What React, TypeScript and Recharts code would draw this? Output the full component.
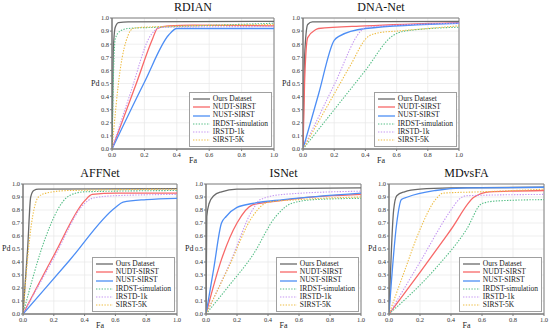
import { CartesianGrid, Line, LineChart, ReferenceArea, XAxis, YAxis } from "recharts";

type Pt = [number, number];

const NAMES = ["Ours Dataset", "NUDT-SIRST", "NUST-SIRST", "IRDST-simulation", "IRSTD-1k", "SIRST-5K"];
const COLORS = ["#6a6a6a", "#f76868", "#4d8ef5", "#55be86", "#c597f2", "#eebd45"];
const DASHED = [false, false, false, true, true, true];
const X_TICKS = [0, 0.2, 0.4, 0.6, 0.8, 1];
const Y_TICKS = [0, 0.1, 0.2, 0.3, 0.4, 0.5, 0.6, 0.7, 0.8, 0.9, 1];

// curves in NAMES order, points are [Fa, Pd]
const rdian: Pt[][] = [
  [[0, 0], [0.008, 0.75], [0.02, 0.93], [0.04, 0.965], [0.1, 0.97], [1, 0.975]],
  [[0, 0], [0.15, 0.5], [0.25, 0.84], [0.28, 0.92], [0.35, 0.94], [0.5, 0.945], [1, 0.94]],
  [[0, 0], [0.2, 0.51], [0.35, 0.87], [0.4, 0.92], [0.6, 0.92], [1, 0.92]],
  [[0, 0], [0.01, 0.6], [0.02, 0.84], [0.05, 0.9], [0.1, 0.92], [0.3, 0.93], [1, 0.96]],
  [[0, 0], [0.12, 0.45], [0.23, 0.85], [0.26, 0.9], [0.3, 0.93], [1, 0.935]],
  [[0, 0], [0.05, 0.6], [0.1, 0.87], [0.13, 0.92], [0.2, 0.93], [1, 0.95]],
];

const dnaNet: Pt[][] = [
  [[0, 0], [0.01, 0.7], [0.03, 0.95], [0.06, 0.97], [1, 0.975]],
  [[0, 0], [0.01, 0.5], [0.03, 0.85], [0.08, 0.91], [0.1, 0.92], [0.4, 0.94], [1, 0.965]],
  [[0, 0], [0.1, 0.42], [0.2, 0.83], [0.23, 0.86], [0.4, 0.92], [1, 0.96]],
  [[0, 0], [0.2, 0.3], [0.4, 0.6], [0.57, 0.86], [0.65, 0.9], [1, 0.93]],
  [[0, 0], [0.2, 0.49], [0.37, 0.9], [0.4, 0.93], [1, 0.96]],
  [[0, 0], [0.2, 0.42], [0.3, 0.63], [0.42, 0.86], [0.5, 0.89], [0.6, 0.9], [1, 0.94]],
];

const affNet: Pt[][] = [
  [[0, 0], [0.03, 0.5], [0.05, 0.9], [0.07, 0.95], [0.1, 0.96], [1, 0.965]],
  [[0, 0], [0.2, 0.45], [0.4, 0.87], [0.45, 0.92], [0.6, 0.93], [1, 0.93]],
  [[0, 0], [0.3, 0.41], [0.6, 0.82], [0.65, 0.86], [0.8, 0.88], [1, 0.89]],
  [[0, 0], [0.15, 0.6], [0.25, 0.85], [0.3, 0.91], [0.4, 0.94], [1, 0.95]],
  [[0, 0], [0.2, 0.43], [0.4, 0.85], [0.45, 0.89], [0.6, 0.91], [1, 0.92]],
  [[0, 0], [0.05, 0.65], [0.1, 0.9], [0.15, 0.93], [0.3, 0.95], [1, 0.96]],
];

const isNet: Pt[][] = [
  [[0, 0], [0.005, 0.75], [0.02, 0.85], [0.05, 0.91], [0.1, 0.94], [0.2, 0.96], [1, 0.97]],
  [[0, 0], [0.1, 0.42], [0.2, 0.7], [0.3, 0.84], [0.4, 0.86], [0.6, 0.89], [1, 0.92]],
  [[0, 0], [0.05, 0.35], [0.1, 0.7], [0.13, 0.75], [0.2, 0.82], [0.3, 0.85], [0.5, 0.88], [1, 0.93]],
  [[0, 0], [0.15, 0.22], [0.3, 0.45], [0.45, 0.75], [0.55, 0.85], [0.7, 0.88], [1, 0.89]],
  [[0, 0], [0.15, 0.38], [0.3, 0.8], [0.35, 0.88], [0.5, 0.92], [1, 0.945]],
  [[0, 0], [0.15, 0.37], [0.3, 0.75], [0.4, 0.86], [0.6, 0.88], [1, 0.9]],
];

const mdvsFa: Pt[][] = [
  [[0, 0], [0.03, 0.8], [0.05, 0.91], [0.1, 0.94], [0.2, 0.96], [0.4, 0.97], [1, 0.975]],
  [[0, 0], [0.2, 0.32], [0.4, 0.65], [0.55, 0.9], [0.65, 0.94], [1, 0.95]],
  [[0, 0], [0.05, 0.7], [0.08, 0.88], [0.12, 0.9], [0.3, 0.95], [0.5, 0.97], [1, 0.975]],
  [[0, 0], [0.3, 0.35], [0.5, 0.65], [0.6, 0.85], [0.7, 0.87], [1, 0.88]],
  [[0, 0], [0.2, 0.4], [0.4, 0.8], [0.45, 0.88], [0.5, 0.91], [1, 0.92]],
  [[0, 0], [0.1, 0.33], [0.2, 0.65], [0.3, 0.88], [0.35, 0.93], [0.6, 0.94], [1, 0.96]],
];

const FONT = "'Liberation Serif', 'Times New Roman', serif";
const YW = 22;
const MT = 5;
const MR = 7;
const XH = 12;

type PanelProps = { title: string; curves: Pt[][]; x: number; y: number; w: number; h: number };

function Legend() {
  return (
    <div
      style={{
        border: "1px solid #a0a0a0",
        background: "#fff",
        padding: "2px 3px",
        fontFamily: FONT,
        fontSize: 7.5,
        lineHeight: "8.2px",
        color: "#222",
      }}
    >
      {NAMES.map((n, i) => (
        <div key={n} style={{ display: "flex", alignItems: "center", whiteSpace: "nowrap" }}>
          <svg width={17} height={4} style={{ marginRight: 3 }}>
            <line
              x1={0}
              y1={2}
              x2={17}
              y2={2}
              stroke={COLORS[i]}
              strokeWidth={DASHED[i] ? 1.1 : 1.3}
              strokeDasharray={DASHED[i] ? "1.4 1.4" : undefined}
            />
          </svg>
          {n}
        </div>
      ))}
    </div>
  );
}

function Panel({ title, curves, x, y, w, h }: PanelProps) {
  const tick = { fontSize: 6.5, fill: "#333", fontFamily: FONT };
  return (
    <div style={{ position: "absolute", left: x - YW, top: y - MT, width: w + YW + MR, height: h + MT + XH }}>
      <LineChart
        width={w + YW + MR}
        height={h + MT + XH}
        margin={{ top: MT, right: MR, left: 0, bottom: 0 }}
        style={{ fontFamily: FONT }}
      >
        <CartesianGrid stroke="#e8e8e8" strokeWidth={0.7} />
        <XAxis
          type="number"
          dataKey="fa"
          domain={[0, 1]}
          ticks={X_TICKS}
          allowDataOverflow
          tickFormatter={(v: number) => v.toFixed(1)}
          height={XH}
          tick={tick}
          tickSize={2}
          tickMargin={1}
          stroke="#777"
          interval={0}
        />
        <YAxis
          type="number"
          dataKey="pd"
          domain={[0, 1]}
          ticks={Y_TICKS}
          allowDataOverflow
          tickFormatter={(v: number) => v.toFixed(1)}
          width={YW}
          tick={tick}
          tickSize={2}
          tickMargin={1}
          stroke="#777"
          interval={0}
        />
        <ReferenceArea x1={0} x2={1} y1={0} y2={1} fill="none" stroke="#808080" strokeWidth={1} />
        {curves.map((c, i) => (
          <Line
            key={NAMES[i]}
            data={c.map(([fa, pd]) => ({ fa, pd }))}
            dataKey="pd"
            type="monotone"
            stroke={COLORS[i]}
            strokeWidth={DASHED[i] ? 1.1 : 1.3}
            strokeDasharray={DASHED[i] ? "1.4 1.4" : undefined}
            dot={false}
            isAnimationActive={false}
          />
        ))}
      </LineChart>
      <div
        style={{
          position: "absolute",
          left: YW,
          width: w,
          top: MT - 17,
          textAlign: "center",
          fontFamily: FONT,
          fontSize: 12,
          lineHeight: "13px",
          color: "#111",
        }}
      >
        {title}
      </div>
      <div
        style={{
          position: "absolute",
          left: 1,
          top: MT + h / 2 - 5,
          fontFamily: FONT,
          fontSize: 8,
          lineHeight: "10px",
          color: "#222",
        }}
      >
        Pd
      </div>
      <div
        style={{
          position: "absolute",
          left: YW,
          width: w,
          top: MT + h + 7,
          textAlign: "center",
          fontFamily: FONT,
          fontSize: 8,
          lineHeight: "10px",
          color: "#222",
        }}
      >
        Fa
      </div>
      <div style={{ position: "absolute", right: MR + 2, top: MT + h - 57 }}>
        <Legend />
      </div>
    </div>
  );
}

export default function App() {
  return (
    <div
      style={{
        position: "absolute",
        left: 0,
        top: 0,
        width: 550,
        height: 334,
        background: "#fff",
        overflow: "hidden",
        fontFamily: FONT,
      }}
    >
      <Panel title="RDIAN" curves={rdian} x={112} y={18} w={162} h={131} />
      <Panel title="DNA-Net" curves={dnaNet} x={303} y={18} w={156} h={131} />
      <Panel title="AFFNet" curves={affNet} x={23} y={184} w={154} h={130} />
      <Panel title="ISNet" curves={isNet} x={206} y={184} w={155} h={130} />
      <Panel title="MDvsFA" curves={mdvsFa} x={389} y={184} w={155} h={130} />
    </div>
  );
}
